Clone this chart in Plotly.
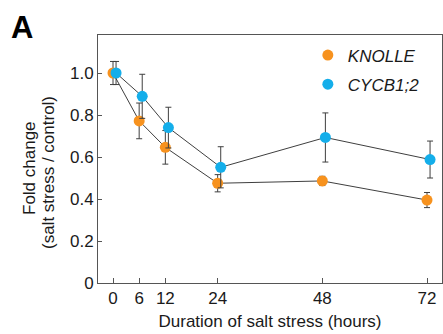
import plotly.graph_objects as go

# Sampling times (hours of salt stress)
hours = [0, 6, 12, 24, 48, 72]
tick_labels = ["0", "6", "12", "24", "48", "72"]

# Fold change (salt stress / control), mean and error
knolle = [1.0, 0.772, 0.646, 0.475, 0.486, 0.395]
knolle_err = [0.055, 0.085, 0.080, 0.041, 0.022, 0.036]
cycb = [1.0, 0.889, 0.740, 0.551, 0.693, 0.588]
cycb_err = [0.055, 0.105, 0.097, 0.098, 0.117, 0.088]

y_ticks = [0, 0.2, 0.4, 0.6, 0.8, 1.0]
y_tick_labels = ["0", "0.2", "0.4", "0.6", "0.8", "1.0"]

ORANGE = "#F7921E"
BLUE = "#14AEEA"
LINE = "#3f3f3f"
AXIS = "#555555"
TEXT = "#1a1a1a"
FONT = "Arial, Liberation Sans, sans-serif"

# small horizontal dodge so the two series don't fully overlap
dodge = 0.7
x_knolle = hours
x_cycb = [h + dodge for h in hours]

fig = go.Figure()

series = [
    ("KNOLLE", x_knolle, knolle, knolle_err, ORANGE),
    ("CYCB1;2", x_cycb, cycb, cycb_err, BLUE),
]

# connecting lines first, underneath everything
for name, xs, ys, errs, color in series:
    fig.add_trace(go.Scatter(
        x=xs, y=ys, mode="lines", showlegend=False, hoverinfo="skip",
        line=dict(color=LINE, width=1),
    ))

for name, xs, ys, errs, color in series:
    fig.add_trace(go.Scatter(
        x=xs, y=ys, mode="markers", name=f"<i>{name}</i>",
        legendgroup=name,
        marker=dict(color=color, size=11, line=dict(width=0)),
        error_y=dict(type="data", array=errs, visible=True,
                     color=LINE, thickness=1, width=3),
    ))

fig.update_layout(
    width=443, height=334,
    margin=dict(l=98, r=1, t=35, b=51),
    paper_bgcolor="white", plot_bgcolor="white",
    font=dict(family=FONT, size=17, color=TEXT),
    showlegend=True,
    legend=dict(
        x=0.61, y=0.99, xanchor="left", yanchor="top",
        bgcolor="rgba(0,0,0,0)", borderwidth=0,
        font=dict(family=FONT, size=17, color=TEXT),
        itemwidth=30, traceorder="grouped", tracegroupgap=4,
    ),
    xaxis=dict(
        range=[-3.44, 75.44],
        tickmode="array", tickvals=hours, ticktext=tick_labels,
        ticks="inside", ticklen=5, tickwidth=1, tickcolor=AXIS,
        showline=True, linecolor=AXIS, linewidth=1, mirror=True,
        showgrid=False, zeroline=False,
        tickfont=dict(size=17, color=TEXT),
        title=dict(text="Duration of salt stress (hours)",
                   font=dict(size=17, color=TEXT), standoff=7),
    ),
    yaxis=dict(
        range=[0, 1.181],
        tickmode="array", tickvals=y_ticks, ticktext=y_tick_labels,
        ticks="inside", ticklen=4, tickwidth=1, tickcolor=AXIS,
        showline=True, linecolor=AXIS, linewidth=1, mirror=True,
        showgrid=False, zeroline=False,
        tickfont=dict(size=17, color=TEXT),
    ),
)

# two-line y-axis title
fig.add_annotation(text="Fold change", xref="paper", yref="paper",
                   x=(29 - 98) / 344, y=(283 - 168) / 248,
                   xanchor="center", yanchor="middle", textangle=-90,
                   showarrow=False, font=dict(size=17, color=TEXT))
fig.add_annotation(text="(salt stress / control)", xref="paper", yref="paper",
                   x=(48 - 98) / 344, y=(283 - 173) / 248,
                   xanchor="center", yanchor="middle", textangle=-90,
                   showarrow=False, font=dict(size=17, color=TEXT))

# panel letter
fig.add_annotation(text="<b>A</b>", xref="paper", yref="paper",
                   x=(9 - 98) / 344, y=(283 - 27) / 248,
                   xanchor="left", yanchor="middle",
                   showarrow=False, font=dict(size=31, color="black"))

fig.write_html("out.html")
